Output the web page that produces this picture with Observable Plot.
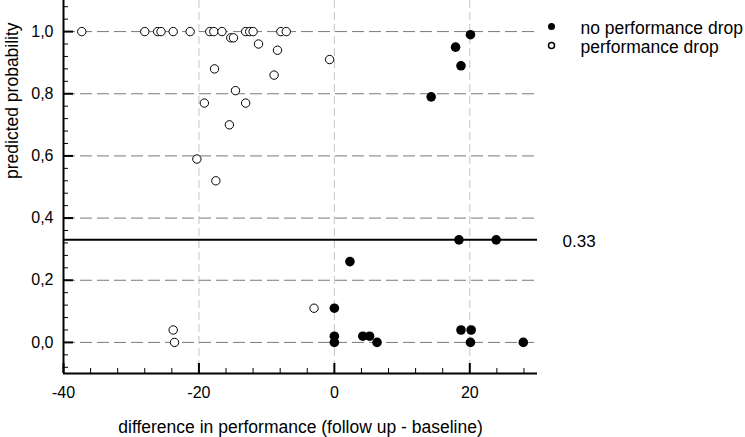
<!DOCTYPE html>
<html>
<head>
<meta charset="utf-8">
<script src="https://cdn.jsdelivr.net/npm/d3@7"></script>
<script src="https://cdn.jsdelivr.net/npm/@observablehq/plot@0.6"></script>
<style>
  html, body { margin: 0; padding: 0; background: #fff; }
</style>
</head>
<body>
<div id="chart"></div>
<script>
// ---- data ----
const noDropX = [20.1, 17.9, 18.7, 14.3, 18.4, 23.9, 2.3, 0.0, 0.0, 0.0, 4.2, 5.2, 6.3, 18.7, 20.2, 20.1, 27.9];
const noDropY = [0.99, 0.95, 0.89, 0.79, 0.33, 0.33, 0.26, 0.11, 0.02, 0.00, 0.02, 0.02, 0.00, 0.04, 0.04, 0.00, 0.00];

const dropX = [-37.3, -28.0, -26.1, -25.6, -23.8, -21.3, -18.4, -17.8, -16.6, -15.3, -14.9, -13.1, -12.5, -12.0,
               -11.2, -8.4, -7.9, -7.1, -0.7, -17.7, -8.9, -14.6, -19.2, -13.1, -15.5, -20.3, -17.5, -23.8, -23.6, -3.0];
const dropY = [1.00, 1.00, 1.00, 1.00, 1.00, 1.00, 1.00, 1.00, 1.00, 0.98, 0.98, 1.00, 1.00, 1.00,
               0.96, 0.94, 1.00, 1.00, 0.91, 0.88, 0.86, 0.81, 0.77, 0.77, 0.70, 0.59, 0.52, 0.04, 0.00, 0.11];

const threshold = 0.33;
const thresholdLabel = "0.33";

const xMajor = [-40, -20, 0, 20];
const xMinor = [-36, -32, -28, -24, -16, -12, -8, -4, 4, 8, 12, 16, 24, 28];
const yMajor = [0, 0.2, 0.4, 0.6, 0.8, 1.0];
const yMinor = [-0.08, -0.04, 0.04, 0.08, 0.12, 0.16, 0.24, 0.28, 0.32, 0.36, 0.44, 0.48, 0.52, 0.56,
                0.64, 0.68, 0.72, 0.76, 0.84, 0.88, 0.92, 0.96, 1.04, 1.08];
const xGrid = [-20, 0, 20];
const xDomain = [-40, 30];
const yDomain = [-0.1, 1.1];

const legendLabels = ["no performance drop", "performance drop"];
const xTitle = "difference in performance (follow up - baseline)";
const yTitle = "predicted probability";

// ---- build tables ----
const noDrop = noDropX.map((x, i) => ({x, y: noDropY[i]}));
const drop = dropX.map((x, i) => ({x, y: dropY[i]}));

const font = "'Liberation Sans', Arial, Helvetica, sans-serif";
const W = 745, H = 437, mL = 63, mR = 208, mT = 0, mB = 64;
const frameW = W - mL - mR, frameH = H - mT - mB;

const chart = Plot.plot({
  width: W,
  height: H,
  marginTop: mT,
  marginLeft: mL,
  marginRight: mR,
  marginBottom: mB,
  style: {fontFamily: font, fontSize: "16px", background: "#fff", color: "#000", overflow: "visible"},
  x: {domain: xDomain},
  y: {domain: yDomain},
  marks: [
    // grid
    Plot.ruleX(xGrid, {stroke: "#c4c4c4", strokeDasharray: "8,4"}),
    Plot.ruleY(yMajor, {stroke: "#7a7a7a", strokeDasharray: "12,5"}),
    // threshold
    Plot.ruleY([threshold], {stroke: "#000", strokeWidth: 2}),
    Plot.text([threshold], {y: d => d, text: () => thresholdLabel, frameAnchor: "right", dx: 25, dy: 2,
      textAnchor: "start", fontSize: 17}),
    // axes: labels
    Plot.axisX({ticks: xMajor, tickSize: 0, tickPadding: 13, tickFormat: d => String(d), label: null, fontSize: 16}),
    Plot.axisY({ticks: yMajor, tickSize: 0, tickPadding: 10, tickFormat: d => d.toFixed(1).replace(".", ","), label: null, fontSize: 16}),
    // axis lines
    Plot.ruleX([xDomain[0]], {stroke: "#000", strokeWidth: 2}),
    Plot.ruleY([yDomain[0]], {stroke: "#000", strokeWidth: 2}),
    // axes: inward ticks
    Plot.tickX(xMajor, {x: d => d, insetTop: frameH - 10, stroke: "#000", strokeWidth: 2}),
    Plot.tickX(xMinor, {x: d => d, insetTop: frameH - 5, stroke: "#000", strokeWidth: 1}),
    Plot.tickY(yMajor, {y: d => d, insetRight: frameW - 10, stroke: "#000", strokeWidth: 2}),
    Plot.tickY(yMinor, {y: d => d, insetRight: frameW - 5, stroke: "#000", strokeWidth: 1}),
    // axis titles
    Plot.text([xTitle], {text: d => d, frameAnchor: "bottom", dy: 59, lineAnchor: "bottom", fontSize: 17.5}),
    Plot.text([yTitle], {text: d => d, frameAnchor: "left", rotate: -90, dx: -46, dy: -8, lineAnchor: "bottom", fontSize: 17.5}),
    // points
    Plot.dot(drop, {x: "x", y: "y", r: 4.2, fill: "#fff", stroke: "#000", strokeWidth: 1}),
    Plot.dot(noDrop, {x: "x", y: "y", r: 4.8, fill: "#000", stroke: "none"}),
    // legend
    Plot.dot([legendLabels[0]], {frameAnchor: "top-left", dx: 488, dy: 26, r: 3.5, fill: "#000", stroke: "none"}),
    Plot.dot([legendLabels[1]], {frameAnchor: "top-left", dx: 488, dy: 45, r: 3, fill: "#fff", stroke: "#000"}),
    Plot.text([legendLabels[0]], {text: d => d, frameAnchor: "top-left", dx: 517, dy: 33, textAnchor: "start", lineAnchor: "bottom", fontSize: 17.5}),
    Plot.text([legendLabels[1]], {text: d => d, frameAnchor: "top-left", dx: 517, dy: 52, textAnchor: "start", lineAnchor: "bottom", fontSize: 17.5})
  ]
});

document.getElementById("chart").appendChild(chart);
</script>
</body>
</html>
